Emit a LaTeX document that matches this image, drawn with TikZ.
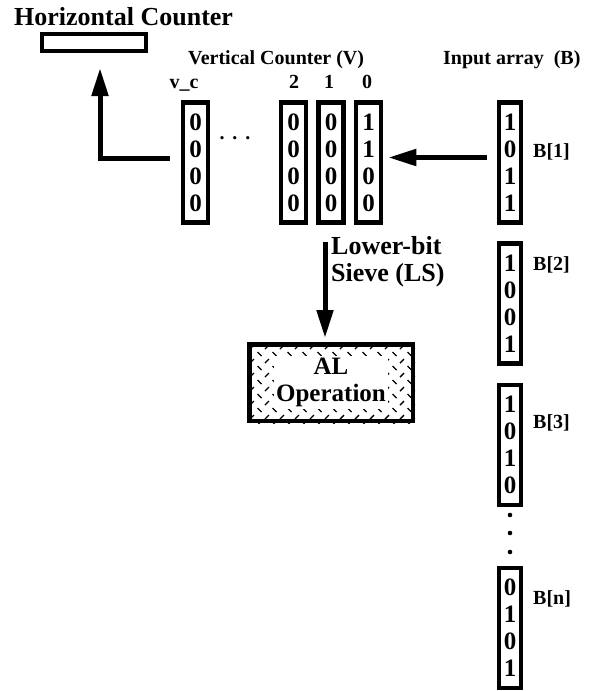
\documentclass[tikz,border=0pt]{standalone}
\usepackage{fontspec}
\setmainfont{Liberation Serif}
\usetikzlibrary{arrows.meta,backgrounds}
\tikzset{
  >={Triangle[length=28pt,width=16pt]},
  lbl/.style={font=\bfseries\fontsize{20}{22}\selectfont, inner sep=0pt},
  biglbl/.style={font=\bfseries\fontsize{26}{27}\selectfont, inner sep=0pt},
  bitcol/.style={
    draw, line width=4.5pt, minimum width=25pt, minimum height=120pt,
    align=center, inner sep=0pt, font=\bfseries\fontsize{25}{27}\selectfont
  },
  inbox/.style={bitcol, minimum width=22pt},
  counterbox/.style={draw, line width=4pt, minimum width=104pt, minimum height=17pt, inner sep=0pt},
  albox/.style={draw, line width=4.5pt, minimum width=163.5pt, minimum height=76.5pt, inner sep=0pt},
  hatch/.style={line width=1.4pt},
  flow/.style={->, line width=5pt}
}

\begin{document}
\begin{tikzpicture}[x=1pt,y=-1pt]
  \useasboundingbox (0,0) rectangle (598,691);

  % horizontal counter
  \node[biglbl, anchor=base west] (htitle) at (14,25) {Horizontal Counter};
  \node[counterbox] (hc) at (94,42.5) {};

  % vertical counter columns
  \node[lbl, anchor=base west] (vtitle) at (188,64) {Vertical Counter (V)};
  \node[bitcol] (vc) at (195.5,162.5) {0\\0\\0\\0};
  \node[bitcol] (v2) at (293.5,162.5) {0\\0\\0\\0};
  \node[bitcol] (v1) at (331,162.5)   {0\\0\\0\\0};
  \node[bitcol] (v0) at (368.5,162.5) {1\\1\\0\\0};
  \node[lbl, anchor=base] (vclbl) at (184,88) {v\_c};
  \node[lbl, anchor=base] (v2lbl) at (294,88) {2};
  \node[lbl, anchor=base] (v1lbl) at (329,88) {1};
  \node[lbl, anchor=base] (v0lbl) at (367,88) {0};
  \node[lbl] (hdots) at (235,138) {.\hspace{0.4em}.\hspace{0.4em}.};

  % input array
  \node[lbl, anchor=base west] (btitle) at (443,64) {Input array\hspace{0.5em}(B)};
  \node[inbox] (b1) at (510,162.5) {1\\0\\1\\1};
  \node[inbox] (b2) at (510,303.5) {1\\0\\0\\1};
  \node[inbox] (b3) at (510,445)   {1\\0\\1\\0};
  \node[inbox] (bn) at (510,628)   {0\\1\\0\\1};
  \node[lbl, anchor=west] (b1lbl) at (533,152) {B[1]};
  \node[lbl, anchor=west] (b2lbl) at (533,265) {B[2]};
  \node[lbl, anchor=west] (b3lbl) at (533,423) {B[3]};
  \node[lbl, anchor=west] (bnlbl) at (533,599) {B[n]};
  \foreach \y in {515,533,552}
    \fill (510,\y) circle (2.3pt);

  % AL operation
  \node[albox] (al) at (331,382.5) {};
  \begin{scope}[on background layer]
    \clip (al.north west) rectangle (al.south east);
    \foreach \r in {0,2,...,10}
      \foreach \c in {0,...,11} {
        \draw[hatch] (250+15*\c,349+7*\r) -- ++(4,-4);
        \draw[hatch] (257.5+15*\c,352+7*\r) -- ++(4,4);
      }
  \end{scope}
  \node[biglbl, fill=white, inner sep=2pt, align=center, font=\bfseries\fontsize{25}{27}\selectfont] (altext) at (al.center) {AL\\Operation};

  % connectors
  \draw[flow] ([xshift=-10pt,yshift=5pt]b1.west) -- ([xshift=5pt,yshift=5pt]v0.east);
  \draw[flow] ([xshift=-11pt,yshift=4pt]vc.west) -| ([xshift=6pt,yshift=-15pt]hc.south);
  \draw[flow] ([xshift=-6pt,yshift=-17pt]v1.south) -- ([xshift=-6pt,yshift=4pt]al.north);
  \node[biglbl, anchor=north west, align=left] (lslbl) at (331,236) {Lower-bit\\Sieve (LS)};
\end{tikzpicture}
\end{document}
